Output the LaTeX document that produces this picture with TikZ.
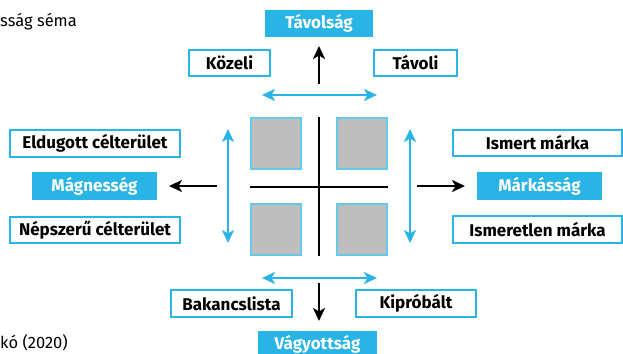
\documentclass[tikz,border=0pt]{standalone}
\usepackage{fontspec}
\setmainfont{Fira Sans}
\usetikzlibrary{arrows.meta}
\definecolor{cy}{HTML}{29B4E6}
\definecolor{lcy}{HTML}{62CBEA}
\definecolor{sq}{HTML}{BEBEBE}
\tikzset{
  obox/.style={draw=cy,line width=2pt,fill=white,inner sep=0pt,font=\fontsize{17}{19}\selectfont\bfseries,text=black},
  fbox/.style={fill=cy,inner sep=0pt,font=\fontsize{17}{19}\selectfont\bfseries,text=white},
  sqbox/.style={draw=lcy,line width=2pt,fill=sq,inner sep=0pt,minimum width=50pt,minimum height=51pt},
  barrow/.style={line width=2.3pt,-{Stealth[length=13pt,width=12pt,inset=3.5pt]}},
  carrow/.style={draw=cy,line width=2.3pt,{Stealth[length=13pt,width=12pt,inset=3.5pt]}-{Stealth[length=13pt,width=12pt,inset=3.5pt]}},
  plain/.style={inner sep=0pt,font=\fontsize{16.5}{18}\selectfont,anchor=base west}
}
\begin{document}
\begin{tikzpicture}[x=1pt,y=-1pt]
\useasboundingbox (0,0) rectangle (623,353);
\clip (0,0) rectangle (623,353);
% texts at the edges
\node[plain] (title) at (0,27) {sság séma};
\node[plain] (src) at (0,348) {kó (2020)};
% main axis labels
\node[fbox,minimum width=108pt,minimum height=27pt] (tav) at (319,23.5) {Távolság};
\node[fbox,minimum width=119pt,minimum height=27pt] (vagy) at (317.5,344.5) {Vágyottság};
\node[fbox,minimum width=125pt,minimum height=28pt] (magn) at (94.5,186) {Mágnesség};
\node[fbox,minimum width=125pt,minimum height=28pt] (mark) at (539.5,186) {Márkásság};
% outlined labels
\node[obox,minimum width=81pt,minimum height=26pt] (kozeli) at (229.5,63) {Közeli};
\node[obox,minimum width=83pt,minimum height=26pt] (tavoli) at (415.5,63) {Távoli};
\node[obox,minimum width=170pt,minimum height=27pt] (eld) at (95,143.5) {Eldugott célterület};
\node[obox,minimum width=170pt,minimum height=26pt] (nep) at (95,230) {Népszerű célterület};
\node[obox,minimum width=169pt,minimum height=26pt] (ism) at (537.5,143) {Ismert márka};
\node[obox,minimum width=169pt,minimum height=27pt] (isml) at (537.5,229.5) {Ismeretlen márka};
\node[obox,minimum width=121pt,minimum height=27pt] (bak) at (231.5,303.5) {Bakancslista};
\node[obox,minimum width=120pt,minimum height=27pt] (kip) at (416,303.5) {Kipróbált};
% squares
\node[sqbox] (s1) at (276,143.5) {};
\node[sqbox] (s2) at (361.5,143.5) {};
\node[sqbox] (s3) at (276,229) {};
\node[sqbox] (s4) at (361.5,229) {};
% cross
\coordinate (ct) at (319,117);
\coordinate (cb) at (319,256);
\coordinate (cl) at (250,187);
\coordinate (cr) at (388,187);
\draw[line width=2.3pt] (ct) -- (cb);
\draw[line width=2.3pt] (cl) -- (cr);
% black arrows
\coordinate (ua) at (319,84);
\coordinate (ub) at (319,46);
\coordinate (da) at (319,283);
\coordinate (db) at (319,321);
\coordinate (la) at (217,186);
\coordinate (lb) at (169,186);
\coordinate (ra) at (417,186);
\coordinate (rb) at (465,186);
\draw[barrow] (ua) -- (ub);
\draw[barrow] (da) -- (db);
\draw[barrow] (la) -- (lb);
\draw[barrow] (ra) -- (rb);
% cyan double arrows
\coordinate (h1a) at (262,95);
\coordinate (h1b) at (377,95);
\coordinate (h2a) at (262,278);
\coordinate (h2b) at (377,278);
\coordinate (v1a) at (228,129);
\coordinate (v1b) at (228,243);
\coordinate (v2a) at (410,129);
\coordinate (v2b) at (410,243);
\draw[carrow] (h1a) -- (h1b);
\draw[carrow] (h2a) -- (h2b);
\draw[carrow] (v1a) -- (v1b);
\draw[carrow] (v2a) -- (v2b);
\end{tikzpicture}
\end{document}
